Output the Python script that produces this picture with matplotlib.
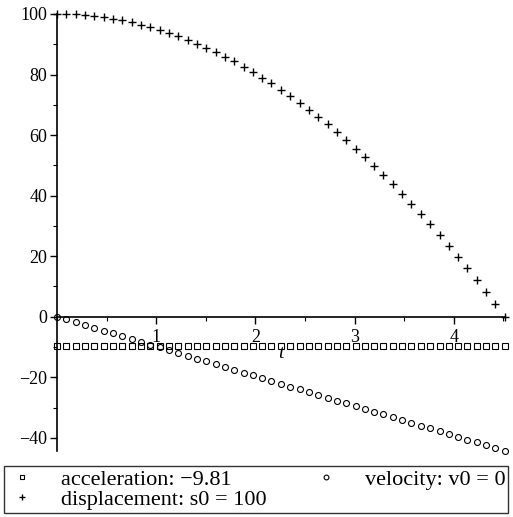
import matplotlib
matplotlib.use("Agg")
import matplotlib.pyplot as plt
import matplotlib.transforms as mtransforms
from matplotlib.ticker import MultipleLocator

# sample times (s)
t = [0.000, 0.094, 0.188, 0.282, 0.376, 0.470, 0.564, 0.658, 0.753, 0.847,
     0.941, 1.035, 1.129, 1.223, 1.317, 1.411, 1.505, 1.599, 1.693, 1.787,
     1.881, 1.975, 2.069, 2.163, 2.258, 2.352, 2.446, 2.540, 2.634, 2.728,
     2.822, 2.916, 3.010, 3.104, 3.198, 3.292, 3.386, 3.480, 3.574, 3.669,
     3.763, 3.857, 3.951, 4.045, 4.139, 4.233, 4.327, 4.421, 4.515]

acceleration = [-9.81] * len(t)

velocity = [0.00, -0.92, -1.84, -2.77, -3.69, -4.61, -5.53, -6.46, -7.38, -8.31,
            -9.23, -10.15, -11.08, -12.00, -12.92, -13.84, -14.76, -15.69, -16.61, -17.53,
            -18.45, -19.37, -20.30, -21.22, -22.15, -23.07, -24.00, -24.92, -25.84, -26.76,
            -27.68, -28.61, -29.53, -30.45, -31.37, -32.29, -33.22, -34.14, -35.06, -35.99,
            -36.92, -37.84, -38.76, -39.68, -40.60, -41.53, -42.45, -43.37, -44.29]

displacement = [100.00, 99.96, 99.83, 99.61, 99.31, 98.91, 98.44, 97.87, 97.22, 96.48,
                95.66, 94.75, 93.75, 92.67, 91.49, 90.23, 88.89, 87.46, 85.94, 84.33,
                82.64, 80.86, 78.99, 77.04, 75.00, 72.87, 70.66, 68.36, 65.97, 63.50,
                60.94, 58.29, 55.56, 52.73, 49.83, 46.83, 43.75, 40.58, 37.33, 33.98,
                30.56, 27.04, 23.44, 19.75, 15.97, 12.11, 8.16, 4.13, 0.00]

labels = ["acceleration: \u22129.81", "displacement: s0 = 100", "velocity: v0 = 0"]

plt.rcParams["font.family"] = ["Liberation Serif", "DejaVu Serif"]

fig = plt.figure(figsize=(5.13, 5.17), dpi=100)
ax = fig.add_axes([0.111, 0.128, 0.873, 0.845])

h_acc, = ax.plot(t, acceleration, ls="none", marker="s", ms=4.3, mfc="none",
                 mec="black", mew=0.8, clip_on=False)
h_disp, = ax.plot(t, displacement, ls="none", marker="+", ms=5.5, color="black",
                  mew=1.0, clip_on=False)
h_vel, = ax.plot(t, velocity, ls="none", marker="o", ms=4.3, mfc="none",
                 mec="black", mew=0.8, clip_on=False)

ax.set_xlim(0, 4.515)
ax.set_ylim(-44.3, 100)

ax.spines["left"].set_position(("data", 0))
ax.spines["bottom"].set_position(("data", 0))
ax.spines["top"].set_visible(False)
ax.spines["right"].set_visible(False)
for s in ("left", "bottom"):
    ax.spines[s].set_linewidth(1.2)

ax.xaxis.set_major_locator(MultipleLocator(1))
ax.xaxis.set_minor_locator(MultipleLocator(0.5))
ax.yaxis.set_major_locator(MultipleLocator(20))
ax.yaxis.set_minor_locator(MultipleLocator(10))
ax.set_xticks([1, 2, 3, 4])
ax.tick_params(axis="both", which="major", direction="out", length=5, width=1,
               labelsize=13)
ax.tick_params(axis="both", which="minor", direction="out", length=3, width=0.8)
ax.tick_params(axis="x", pad=4)
ax.tick_params(axis="y", pad=2)
ax.yaxis.set_major_formatter(plt.FuncFormatter(
    lambda v, p: ("\u2212%d" % -v) if v < 0 else "%d" % v))

trans = mtransforms.blended_transform_factory(ax.transAxes, ax.transData)
ax.text(0.5, -9.5, "t", transform=trans, ha="center", va="top",
        fontsize=14, style="italic")

leg = fig.legend([h_acc, h_disp, h_vel], labels, ncol=2,
                 loc="lower left", bbox_to_anchor=(0.008, 0.008, 0.982, 0.099),
                 mode="expand", fontsize=16, markerscale=0.8,
                 handlelength=1.4, handletextpad=1.05, columnspacing=1.5,
                 labelspacing=0.0, borderpad=0.12, borderaxespad=0.0,
                 frameon=True, fancybox=False)
leg.get_frame().set_edgecolor("black")
leg.get_frame().set_linewidth(1.0)

fig.savefig("out.png", dpi=100)
